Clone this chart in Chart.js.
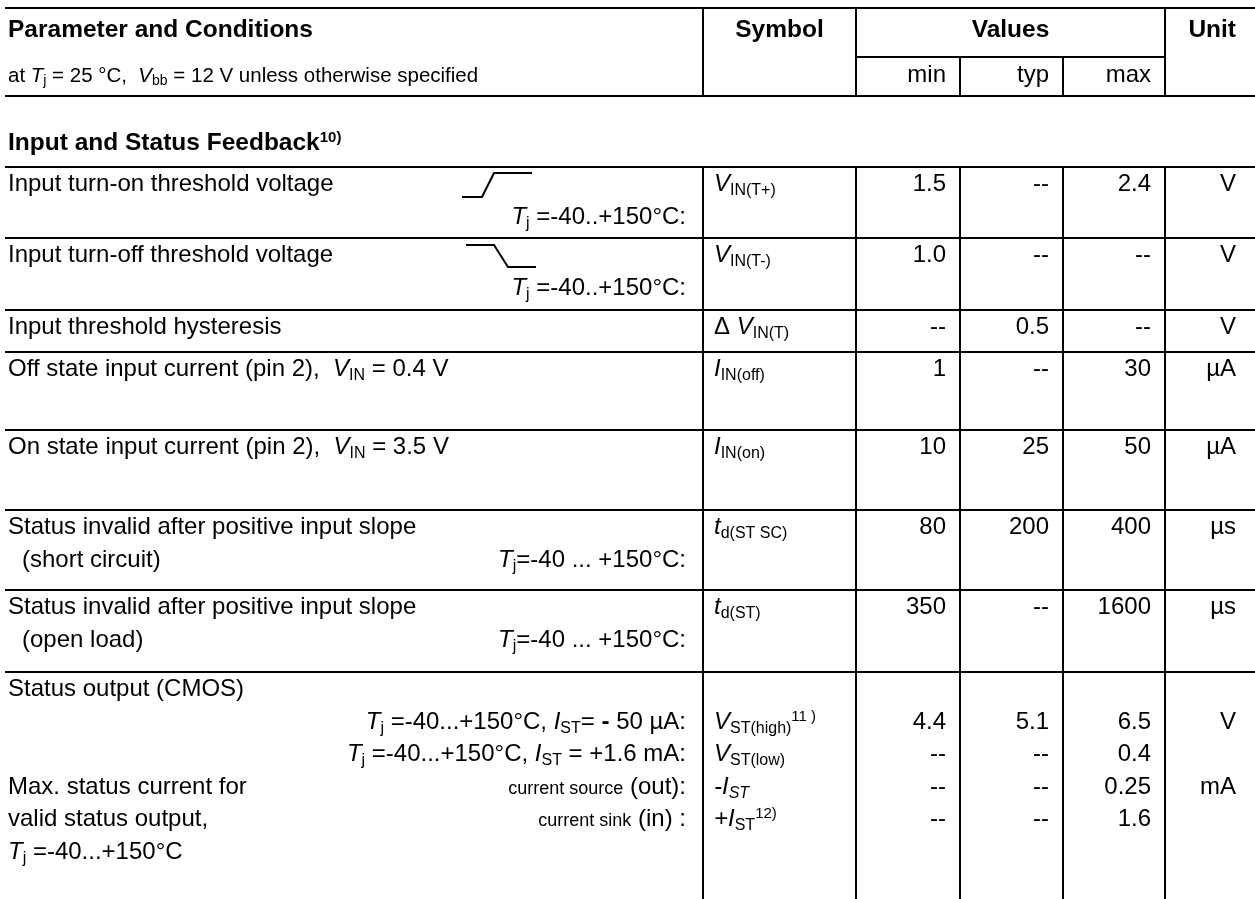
<!DOCTYPE html>
<html>
<head>
<meta charset="utf-8">
<title>Input and Status Feedback</title>
<script src="https://cdn.jsdelivr.net/npm/chart.js"></script>
<style>
    html, body { margin: 0; padding: 0; background: #fff; }
    canvas { display: block; }
</style>
</head>
<body>
<canvas id="tableChart" width="1255" height="899"></canvas>
<script>
    // Table contents. Markup: {i|..} italic, {sub|..} subscript, {isub|..} italic subscript,
    // {sup|..} superscript, {sm|..} small text, {b|..} bold
    const headerTitles = ["Parameter and Conditions", "Symbol", "Values", "Unit"];
    const headerNote = "at {i|T}{sub|j} = 25 °C,  {i|V}{sub|bb} = 12 V unless otherwise specified";
    const valueColumns = ["min", "typ", "max"];
    const sectionTitle = "Input and Status Feedback{sup|10)}";

    // [table row, line in row, align, text]
    const parameterLines = [
        [0, 0, "l", "Input turn-on threshold voltage"],
        [0, 1, "r", "{i|T}{sub|j} =-40..+150°C:"],
        [1, 0, "l", "Input turn-off threshold voltage"],
        [1, 1, "r", "{i|T}{sub|j} =-40..+150°C:"],
        [2, 0, "l", "Input threshold hysteresis"],
        [3, 0, "l", "Off state input current (pin 2),  {i|V}{sub|IN} = 0.4 V"],
        [4, 0, "l", "On state input current (pin 2),  {i|V}{sub|IN} = 3.5 V"],
        [5, 0, "l", "Status invalid after positive input slope"],
        [5, 1, "i", "(short circuit)"],
        [5, 1, "r", "{i|T}{sub|j}=-40 ... +150°C:"],
        [6, 0, "l", "Status invalid after positive input slope"],
        [6, 1, "i", "(open load)"],
        [6, 1, "r", "{i|T}{sub|j}=-40 ... +150°C:"],
        [7, 0, "l", "Status output (CMOS)"],
        [7, 1, "r", "{i|T}{sub|j} =-40...+150°C, {i|I}{sub|ST}= {b|-} 50 µA:"],
        [7, 2, "r", "{i|T}{sub|j} =-40...+150°C, {i|I}{sub|ST} = +1.6 mA:"],
        [7, 3, "l", "Max. status current for"],
        [7, 3, "r", "{sm|current source} (out):"],
        [7, 4, "l", "valid status output,"],
        [7, 4, "r", "{sm|current sink} (in) :"],
        [7, 5, "l", "{i|T}{sub|j} =-40...+150°C"]
    ];

    // one entry per value line
    const symbols = [
        "{i|V}{sub|IN(T+)}", "{i|V}{sub|IN(T-)}", "Δ {i|V}{sub|IN(T)}",
        "{i|I}{sub|IN(off)}", "{i|I}{sub|IN(on)}", "{i|t}{sub|d(ST SC)}", "{i|t}{sub|d(ST)}",
        "{i|V}{sub|ST(high)}{sup|11 )}", "{i|V}{sub|ST(low)}", "{i|-I}{isub|ST}", "{i|+I}{sub|ST}{sup|12)}"
    ];
    const minValues = ["1.5", "1.0", "--", "1", "10", "80", "350", "4.4", "--", "--", "--"];
    const typValues = ["--", "--", "0.5", "--", "25", "200", "--", "5.1", "--", "--", "--"];
    const maxValues = ["2.4", "--", "--", "30", "50", "400", "1600", "6.5", "0.4", "0.25", "1.6"];
    const units = ["V", "V", "V", "µA", "µA", "µs", "µs", "V", "", "mA", ""];
    const valueRow = [0, 1, 2, 3, 4, 5, 6, 7, 7, 7, 7];
    const valueLine = [0, 0, 0, 0, 0, 0, 0, 1, 2, 3, 4];

    // Layout (page units, mapped through the chart scales)
    const FONT = '"Liberation Sans", Arial, sans-serif';
    const layout = {
        left: 5, textX: 8, indentX: 22, condRight: 686,
        cols: [703, 856, 960, 1063, 1165],
        valueRight: [946, 1049, 1151], unitRight: 1236, symbolX: 714,
        headerTop: 8, headerMid: 57, headerBottom: 96,
        titleBase: 37, noteBase: 82, sectionBase: 150,
        rowTops: [167, 238, 310, 352, 430, 510, 590, 672],
        bottom: 899, firstBase: 24, lineStep: 32.5,
        size: 24, titleSize: 24.5, noteSize: 20.5
    };
    const ramps = [
        [[462, 197], [482, 197], [494, 173], [532, 173]],
        [[466, 245], [494, 245], [508, 267], [536, 267]]
    ];

    function parseRich(s) {
        const out = [];
        const re = /\{(\w+)\|([^}]*)\}/g;
        let last = 0, m;
        while ((m = re.exec(s))) {
            if (m.index > last) out.push({ style: "n", text: s.slice(last, m.index) });
            out.push({ style: m[1], text: m[2] });
            last = re.lastIndex;
        }
        if (last < s.length) out.push({ style: "n", text: s.slice(last) });
        return out;
    }

    function segFont(style, size, bold) {
        const w = bold ? "bold " : "";
        const sub = Math.round(size * 0.68);
        switch (style) {
            case "i": return { font: `italic ${w}${size}px ${FONT}`, dy: 0 };
            case "b": return { font: `bold ${size}px ${FONT}`, dy: 0 };
            case "sub": return { font: `${w}${sub}px ${FONT}`, dy: size * 0.17 };
            case "isub": return { font: `italic ${w}${sub}px ${FONT}`, dy: size * 0.17 };
            case "sup": return { font: `${w}${Math.round(size * 0.62)}px ${FONT}`, dy: -size * 0.33 };
            case "sm": return { font: `${Math.round(size * 0.76)}px ${FONT}`, dy: 0 };
            default: return { font: `${w}${size}px ${FONT}`, dy: 0 };
        }
    }

    function drawRich(ctx, s, x, y, align, size, bold) {
        const segs = parseRich(s).map(seg => Object.assign(seg, segFont(seg.style, size, bold)));
        let total = 0;
        segs.forEach(seg => {
            ctx.font = seg.font;
            seg.w = ctx.measureText(seg.text).width;
            total += seg.w;
        });
        let cx = align === "right" ? x - total : align === "center" ? x - total / 2 : x;
        segs.forEach(seg => {
            ctx.font = seg.font;
            ctx.fillText(seg.text, cx, y + seg.dy);
            cx += seg.w;
        });
    }

    const tablePlugin = {
        id: "datasheetTable",
        afterDraw(chart) {
            const ctx = chart.ctx;
            const X = v => chart.scales.x.getPixelForValue(v);
            const Y = v => chart.scales.y.getPixelForValue(v);
            const L = layout;
            ctx.save();
            ctx.fillStyle = "#000";
            ctx.textBaseline = "alphabetic";

            const hLine = (x1, x2, y) => ctx.fillRect(X(x1), Y(y) - 1, X(x2) - X(x1), 2);
            const vLine = (x, y1, y2) => ctx.fillRect(X(x) - 1, Y(y1), 2, Y(y2) - Y(y1));

            // header rules
            hLine(L.left, 1255, L.headerTop);
            hLine(L.left, 1255, L.headerBottom);
            hLine(L.cols[1], L.cols[4], L.headerMid);
            [L.cols[0], L.cols[1], L.cols[4]].forEach(x => vLine(x, L.headerTop, L.headerBottom));
            [L.cols[2], L.cols[3]].forEach(x => vLine(x, L.headerMid, L.headerBottom));

            // body rules
            L.rowTops.forEach(y => hLine(L.left, 1255, y));
            L.cols.forEach(x => vLine(x, L.rowTops[0], L.bottom));

            // header text
            drawRich(ctx, headerTitles[0], X(L.textX), Y(L.titleBase), "left", L.titleSize, true);
            drawRich(ctx, headerTitles[1], X((L.cols[0] + L.cols[1]) / 2), Y(L.titleBase), "center", L.titleSize, true);
            drawRich(ctx, headerTitles[2], X((L.cols[1] + L.cols[4]) / 2), Y(L.titleBase), "center", L.titleSize, true);
            drawRich(ctx, headerTitles[3], X(L.unitRight), Y(L.titleBase), "right", L.titleSize, true);
            drawRich(ctx, headerNote, X(L.textX), Y(L.noteBase), "left", L.noteSize, false);
            valueColumns.forEach((t, i) => drawRich(ctx, t, X(L.valueRight[i]), Y(L.noteBase), "right", L.size, false));
            drawRich(ctx, sectionTitle, X(L.textX), Y(L.sectionBase), "left", L.titleSize, true);

            const base = (row, line) => L.rowTops[row] + L.firstBase + line * L.lineStep;

            // parameter column
            parameterLines.forEach(([row, line, align, text]) => {
                const x = align === "r" ? L.condRight : align === "i" ? L.indentX : L.textX;
                drawRich(ctx, text, X(x), Y(base(row, line)), align === "r" ? "right" : "left", L.size, false);
            });

            // ramp pictograms
            ctx.lineWidth = 2;
            ctx.strokeStyle = "#000";
            ramps.forEach(pts => {
                ctx.beginPath();
                pts.forEach(([px, py], i) => i ? ctx.lineTo(X(px), Y(py)) : ctx.moveTo(X(px), Y(py)));
                ctx.stroke();
            });

            // symbol, values, unit
            symbols.forEach((sym, i) => {
                const y = Y(base(valueRow[i], valueLine[i]));
                drawRich(ctx, sym, X(L.symbolX), y, "left", L.size, false);
                [minValues[i], typValues[i], maxValues[i]].forEach((v, c) =>
                    drawRich(ctx, v, X(L.valueRight[c]), y, "right", L.size, false));
                if (units[i]) drawRich(ctx, units[i], X(L.unitRight), y, "right", L.size, false);
            });
            ctx.restore();
        }
    };

    const ctx = document.getElementById("tableChart").getContext("2d");
    new Chart(ctx, {
        type: "scatter",
        data: { datasets: [] },
        options: {
            responsive: false,
            animation: false,
            events: [],
            layout: { padding: 0 },
            plugins: { legend: { display: false }, tooltip: { enabled: false } },
            scales: {
                x: { type: "linear", min: 0, max: 1255, display: false },
                y: { type: "linear", min: 0, max: 899, reverse: true, display: false }
            }
        },
        plugins: [tablePlugin]
    });
</script>
</body>
</html>
